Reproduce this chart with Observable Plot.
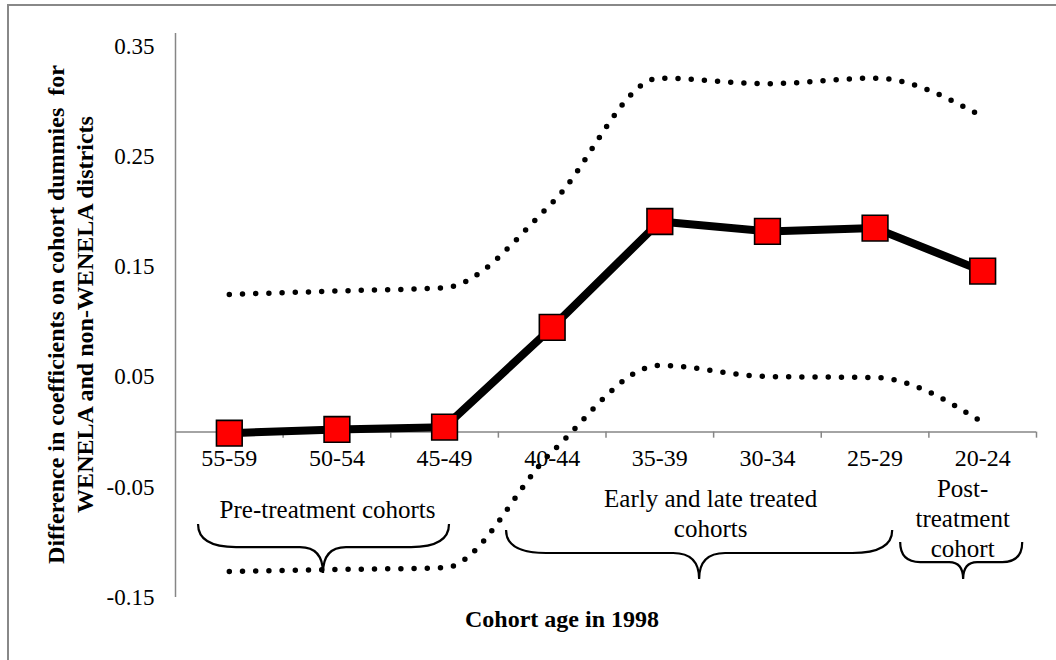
<!DOCTYPE html>
<html>
<head>
<meta charset="utf-8">
<script src="https://cdn.jsdelivr.net/npm/d3@7"></script>
<script src="https://cdn.jsdelivr.net/npm/@observablehq/plot@0.6"></script>
<style>
  html, body { margin: 0; padding: 0; background: #fff; overflow: hidden; }
  #wrap { position: relative; width: 1056px; height: 660px; }
  #border { position: absolute; left: 7px; top: 4px; width: 1200px; height: 800px;
            border-left: 2px solid #888; border-top: 2px solid #888; pointer-events: none; }
  #wrap svg text { font-family: "Liberation Serif", "Times New Roman", Times, serif !important; }
</style>
</head>
<body>
<div id="wrap"><div id="border"></div></div>
<script>
// ---- data ----
const cohorts   = ["55-59", "50-54", "45-49", "40-44", "35-39", "30-34", "25-29", "20-24"];
const estimate  = [-0.001, 0.0024, 0.0045, 0.095, 0.191, 0.182, 0.185, 0.146];
const upperCI   = [0.1248, 0.128, 0.131, 0.208, 0.321, 0.316, 0.321, 0.286];
const lowerCI   = [-0.1264, -0.1246, -0.123, -0.0177, 0.0604, 0.0504, 0.0495, 0.0087];
const yTicks    = [-0.15, -0.05, 0.05, 0.15, 0.25, 0.35];
const groupLabels = ["Pre-treatment cohorts", "Early and late treated\ncohorts", "Post-\ntreatment\ncohort"];
const xTitle = "Cohort age in 1998";
const yTitle = "Difference in coefficients on cohort dummies  for\nWENELA and non-WENELA districts";

// table built from the arrays (x = category index centre)
const table = cohorts.map((c, i) => ({cohort: c, xi: i + 0.5, est: estimate[i], up: upperCI[i], lo: lowerCI[i]}));
const boundaries = d3.range(1, cohorts.length + 1);

// ---- layout (annotation placement in scale units) ----
const groupLayout = [
  {x: 1.413, y: -0.0693, brace: {x0: 0.214, x1: 2.546, tip: 1.375, top: -0.0838, mid: -0.1047, bot: -0.1283, c: 38, c2: 23}},
  {x: 4.972, y: -0.0729, brace: {x0: 3.076, x1: 6.664, tip: 4.870, top: -0.0892, mid: -0.1101, bot: -0.1337, c: 40, c2: 26}},
  {x: 7.314, y: -0.0775, brace: {x0: 6.738, x1: 7.872, tip: 7.323, top: -0.1001, mid: -0.1183, bot: -0.1337, c: 20, c2: 14}}
];
const groups = groupLabels.map((t, i) => ({text: t, ...groupLayout[i]}));

const font = "Liberation Serif, Times New Roman, serif";
const gray = "#868686";

const chart = Plot.plot({
  width: 1056,
  height: 660,
  marginLeft: 175,
  marginRight: 20,
  marginTop: 33,
  marginBottom: 63,
  style: {fontFamily: font, fontSize: "23px", color: "#000", background: "transparent", overflow: "visible"},
  x: {type: "linear", domain: [0, cohorts.length], axis: null},
  y: {domain: [-0.15, 0.3615], axis: null},
  marks: [
    // y axis
    Plot.ruleX([0], {y1: -0.15, y2: 0.3615, stroke: gray, strokeWidth: 1.5}),
    Plot.axisY({ticks: yTicks, tickSize: 0, tickPadding: 21, tickFormat: d => d.toFixed(2),
                label: null, fontSize: 23, fill: "#000"}),
    // x axis at zero with boundary ticks
    Plot.ruleY([0], {x1: 0, x2: cohorts.length, stroke: gray, strokeWidth: 1.5}),
    Plot.ruleX(boundaries, {x: d => d, y1: 0, y2: -0.0055, stroke: gray, strokeWidth: 1.5}),
    Plot.text(table, {x: "xi", y: 0, text: "cohort", dy: 26, fontSize: 24, fill: "#000"}),
    // confidence bands (dotted, smoothed)
    Plot.line(table, {x: "xi", y: "up", curve: "monotone-x", stroke: "#000", strokeWidth: 5.5,
                      strokeDasharray: "0 13.2", strokeLinecap: "round"}),
    Plot.line(table, {x: "xi", y: "lo", curve: "monotone-x", stroke: "#000", strokeWidth: 5.5,
                      strokeDasharray: "0 13.2", strokeLinecap: "round"}),
    // estimate
    Plot.line(table, {x: "xi", y: "est", stroke: "#000", strokeWidth: 8, strokeLinejoin: "miter", strokeLinecap: "butt"}),
    Plot.dot(table, {x: "xi", y: "est", symbol: "square", r: 14.5, fill: "#ff0000", stroke: "#000", strokeWidth: 1.6}),
    // group labels
    Plot.text(groups, {x: "x", y: "y", text: "text", fontSize: 25, lineHeight: 1.2, fill: "#000"}),
    // titles
    Plot.text([xTitle], {frameAnchor: "bottom", textAnchor: "middle", lineAnchor: "middle", dx: -44, dy: 22,
                         fontSize: 24, fontWeight: "bold", fill: "#000"}),
    Plot.text([yTitle], {frameAnchor: "left", textAnchor: "middle", lineAnchor: "middle", dx: -106, dy: -1, rotate: -90,
                         fontSize: 24, fontWeight: "bold", lineHeight: 1.17, fill: "#000"})
  ]
});

// braces drawn through the chart's scales
const sx = chart.scale("x"), sy = chart.scale("y");
const svg = d3.select(chart);
groups.forEach(g => {
  const b = g.brace;
  const x0 = sx.apply(b.x0), x1 = sx.apply(b.x1), t = sx.apply(b.tip);
  const yt = sy.apply(b.top), ym = sy.apply(b.mid), yb = sy.apply(b.bot);
  const p = d3.path();
  p.moveTo(x0, yt);
  p.quadraticCurveTo(x0, ym, x0 + b.c, ym);
  p.lineTo(t - b.c2, ym);
  p.quadraticCurveTo(t, ym, t, yb);
  p.quadraticCurveTo(t, ym, t + b.c2, ym);
  p.lineTo(x1 - b.c, ym);
  p.quadraticCurveTo(x1, ym, x1, yt);
  svg.append("path").attr("d", p.toString()).attr("fill", "none")
     .attr("stroke", "#000").attr("stroke-width", 2.2);
});

document.getElementById("wrap").prepend(chart);
</script>
</body>
</html>
